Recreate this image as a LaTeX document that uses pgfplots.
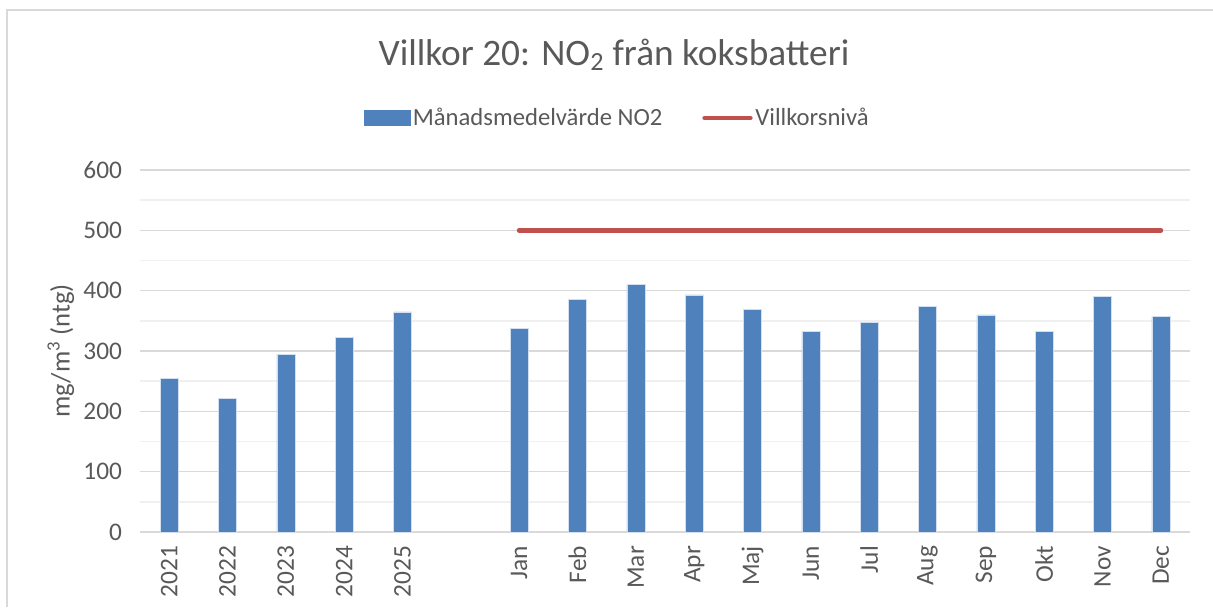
\documentclass[border=0pt]{standalone}
\usepackage{pgfplots}
\pgfplotsset{compat=1.18}
\usepackage{fontspec}
\setmainfont{Carlito}
\definecolor{barblue}{HTML}{4F81BD}
\definecolor{limred}{HTML}{C0504D}
\definecolor{txt}{HTML}{595959}
\definecolor{gridmaj}{HTML}{D9D9D9}
\definecolor{gridmin}{HTML}{F0F0F0}
\begin{document}
\begin{tikzpicture}
\useasboundingbox (0pt,0pt) rectangle (909.75pt,455.25pt);
\draw[gridmaj,line width=1.5pt] (5.25pt,0pt) -- (5.25pt,447.75pt) -- (909.75pt,447.75pt);
\node[txt,font=\fontsize{28}{31}\selectfont] at (460.5pt,414pt) {Villkor 20: NO\textsubscript{2} från koksbatteri};
\begin{axis}[
  at={(105pt,56.25pt)}, anchor=south west,
  scale only axis, width=787.5pt, height=271.5pt,
  xmin=-0.5, xmax=17.5, ymin=0, ymax=600,
  xtick={0,1,2,3,4,6,7,8,9,10,11,12,13,14,15,16,17},
  xticklabels={2021,2022,2023,2024,2025,Jan,Feb,Mar,Apr,Maj,Jun,Jul,Aug,Sep,Okt,Nov,Dec},
  ytick={0,100,...,600},
  minor ytick={50,150,...,550},
  ymajorgrids, yminorgrids,
  major grid style={gridmaj,line width=1.2pt},
  minor grid style={gridmin,line width=1.2pt},
  axis x line*=bottom,
  axis y line*=left,
  x axis line style={draw=gridmaj,line width=1.2pt},
  y axis line style={draw=none},
  major tick length=0pt, minor tick length=0pt,
  xticklabel style={rotate=90,anchor=east,text=txt,font=\fontsize{19}{21}\selectfont,xshift=-7pt},
  yticklabel style={text=txt,font=\fontsize{19}{21}\selectfont,xshift=-10pt},
  /pgf/number format/assume math mode=true,
  ylabel={mg/m\textsuperscript{3} (ntg)},
  ylabel style={text=txt,font=\fontsize{20}{22}\selectfont},
  clip=false,
  legend style={at={(0.455,1.1436)},anchor=center,draw=none,fill=none,
    legend columns=2,font=\fontsize{18.5}{20}\selectfont,text=txt,
    /tikz/every even column/.append style={column sep=28pt}},
  legend cell align=left,
]
\addplot[ybar, bar width=13.5pt, fill=barblue, draw=white!75!barblue, line width=0.4pt,
  area legend, legend image code/.code={\fill[barblue] (0cm,-0.2cm) rectangle (1.2cm,0.2cm);}]
  coordinates {(0,254) (1,222) (2,295) (3,322) (4,365)
  (6,338) (7,385) (8,410) (9,393) (10,369) (11,332) (12,348) (13,374) (14,360) (15,332) (16,391) (17,357)};
\addlegendentry{Månadsmedelvärde NO2}
\addplot[limred, line width=3.6pt, line cap=round, legend image code/.code={\draw[limred,line width=3.6pt,line cap=round] (0cm,0cm) -- (1.2cm,0cm);}]
  coordinates {(6,500) (17,500)};
\addlegendentry{Villkorsnivå}
\end{axis}
\end{tikzpicture}
\end{document}
